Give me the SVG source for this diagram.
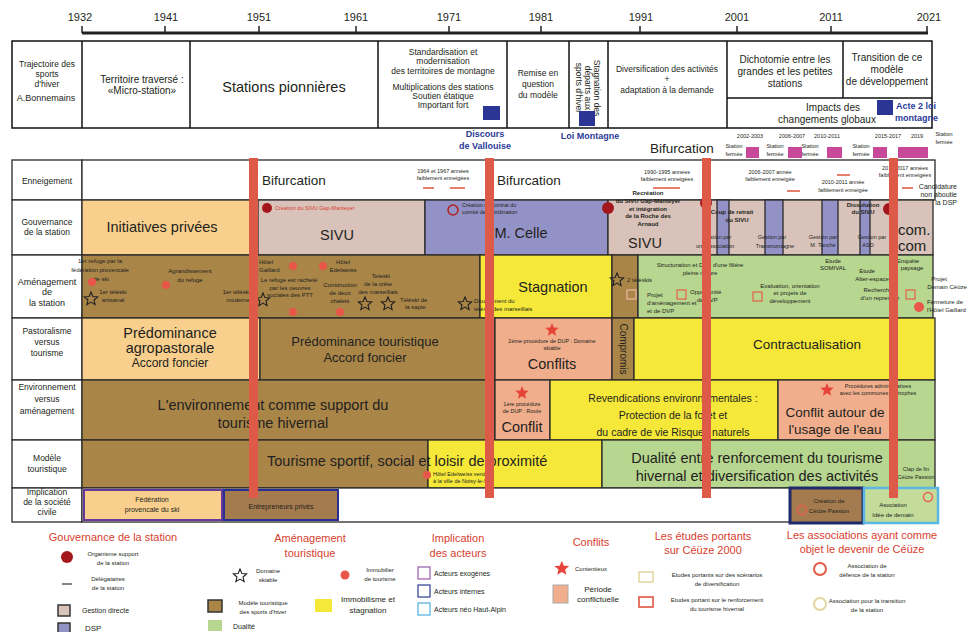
<svg xmlns="http://www.w3.org/2000/svg" width="968" height="632" viewBox="0 0 968 632">
<defs>
<style>
text{font-family:"Liberation Sans",Arial,sans-serif;fill:#231f20}
.c{text-anchor:middle}
.e{text-anchor:end}
.b{font-weight:bold}
.f5{font-size:5.5px}.f6{font-size:6px}.f7{font-size:7px}.f8{font-size:8px}.f85{font-size:8.5px}.f9{font-size:9px}.f10{font-size:10px}.f11{font-size:11px}.f13{font-size:13.5px}.f14{font-size:14.5px}
.red{fill:#d8402e}.blue{fill:#2b3a98}
.cell{stroke:#2a2a2a;stroke-width:1.3}
.peach{fill:#f8cf8d}.brown{fill:#a98548}.pink{fill:#d9c2b9}.purple{fill:#9392c6}.yellow{fill:#f5e838}.green{fill:#b7d68f}.salmon{fill:#f0ae8c}.white{fill:#fff}
.bar{fill:#dd5a48}
.dot{fill:#e8564a}
.org{fill:#a3171c}
.so{fill:none;stroke:#222;stroke-width:1.1}
.sr{fill:#e8453a}
.dash{stroke:#e0604c;stroke-width:1.6}
.box{fill:none;stroke:#111;stroke-width:1.5}
.pinkm{fill:#c8489a}
.bsq{fill:#2b3594}
</style>
<path id="star" d="M0,-7L1.85,-2.55L6.66,-2.16L3,0.97L4.12,5.66L0,3.15L-4.12,5.66L-3,0.97L-6.66,-2.16L-1.85,-2.55Z"/>
</defs>

<g id="timeline">
<line x1="82" y1="33" x2="928" y2="33" stroke="#222" stroke-width="3"/>
<g stroke="#222" stroke-width="1.5">
<line x1="82" y1="26" x2="82" y2="33"/><line x1="165" y1="26" x2="165" y2="33"/><line x1="259" y1="26" x2="259" y2="33"/><line x1="356" y1="26" x2="356" y2="33"/><line x1="449" y1="26" x2="449" y2="33"/><line x1="541" y1="26" x2="541" y2="33"/><line x1="640" y1="26" x2="640" y2="33"/><line x1="737" y1="26" x2="737" y2="33"/><line x1="831" y1="26" x2="831" y2="33"/><line x1="927" y1="26" x2="927" y2="33"/>
</g>
<g class="c f11">
<text x="80" y="21">1932</text><text x="166" y="21">1941</text><text x="259" y="21">1951</text><text x="356" y="21">1961</text><text x="449" y="21">1971</text><text x="541" y="21">1981</text><text x="641" y="21">1991</text><text x="737" y="21">2001</text><text x="831" y="21">2011</text><text x="929" y="21">2021</text>
</g>
</g>

<g id="header">
<rect x="12" y="41" width="920" height="87" class="box"/>
<g stroke="#111" stroke-width="1.5">
<line x1="82" y1="41" x2="82" y2="128"/><line x1="190" y1="41" x2="190" y2="128"/><line x1="378" y1="41" x2="378" y2="128"/><line x1="507" y1="41" x2="507" y2="128"/><line x1="569" y1="41" x2="569" y2="128"/><line x1="608" y1="41" x2="608" y2="128"/><line x1="727" y1="41" x2="727" y2="128"/><line x1="843" y1="41" x2="843" y2="98"/><line x1="727" y1="98" x2="932" y2="98"/>
</g>
<g class="c f85">
<text x="47" y="67">Trajectoire des</text><text x="47" y="77">sports</text><text x="47" y="87">d'hiver</text><text x="46" y="101" class="f9">A.Bonnemains</text>
</g>
<text x="142" y="83" class="c f10">Territoire traversé :</text>
<text x="142" y="94" class="c f10">«Micro-station»</text>
<text x="284" y="92" class="c f14">Stations pionnières</text>
<g class="c f85">
<text x="443" y="55">Standardisation et</text><text x="443" y="64">modernisation</text><text x="443" y="74">des territoires de montagne</text>
<text x="443" y="90">Multiplications des stations</text><text x="443" y="99">Soutien étatique</text><text x="443" y="108">Important fort</text>
<text x="538" y="76">Remise en</text><text x="538" y="87">question</text><text x="538" y="98">du modèle</text>
<text x="667" y="72">Diversification des activités</text><text x="667" y="82">+</text><text x="667" y="93">adaptation à la demande</text>
</g>
<g transform="translate(588,88) rotate(90)" class="c f85">
<text x="0" y="-6">Stagnation des</text><text x="0" y="3">départs aux</text><text x="0" y="12">sports d'hiver</text>
</g>
<g class="c f10">
<text x="785" y="63">Dichotomie entre les</text><text x="785" y="75">grandes et les petites</text><text x="785" y="87">stations</text>
<text x="887" y="61">Transition de ce</text><text x="887" y="73">modèle</text><text x="887" y="85">de développement</text>
<text x="833" y="111">Impacts des</text><text x="827" y="123">changements globaux</text>
</g>
<rect x="877" y="100" width="16" height="15" class="bsq"/>
<text x="896" y="109" class="b blue f9">Acte 2 loi</text>
<text x="895" y="121" class="b blue f9">montagne</text>
<rect x="483" y="106" width="17" height="14" class="bsq"/>
<rect x="579" y="111" width="16" height="15" class="bsq"/>
<text x="485" y="137" class="c b blue f9">Discours</text>
<text x="485" y="149" class="c b blue f9">de Vallouise</text>
<text x="590" y="139" class="c b blue f9">Loi Montagne</text>
</g>

<g id="closures">
<text x="650" y="153" class="f13">Bifurcation</text>
<g class="c f5">
<text x="750" y="138">2002-2003</text><text x="792" y="138">2006-2007</text><text x="827" y="138">2010-2011</text><text x="888" y="138">2015-2017</text><text x="917" y="138">2019</text>
<text x="734" y="148">Station</text><text x="734" y="156">fermée</text>
<text x="775" y="148">Station</text><text x="775" y="156">fermée</text>
<text x="810" y="148">Station</text><text x="810" y="156">fermée</text>
<text x="861" y="148">Station</text><text x="861" y="156">fermée</text>
<text x="944" y="136">Station</text><text x="944" y="144">fermée</text>
</g>
<rect x="746" y="147" width="13" height="11" class="pinkm"/>
<rect x="788" y="147" width="14" height="11" class="pinkm"/>
<rect x="827" y="147" width="15" height="11" class="pinkm"/>
<rect x="873" y="147" width="14" height="11" class="pinkm"/>
<rect x="898" y="147" width="30" height="11" class="pinkm"/>
</g>

<g id="labels">
<rect x="12" y="160" width="70" height="40" class="cell white"/>
<rect x="12" y="200" width="70" height="55" class="cell white"/>
<rect x="12" y="255" width="70" height="63" class="cell white"/>
<rect x="12" y="318" width="70" height="62" class="cell white"/>
<rect x="12" y="380" width="70" height="60" class="cell white"/>
<rect x="12" y="440" width="70" height="48" class="cell white"/>
<rect x="12" y="488" width="70" height="34" class="cell white"/>
<g class="c f85">
<text x="47" y="184">Enneigement</text>
<text x="47" y="225">Gouvernance</text><text x="47" y="235">de la station</text>
<text x="47" y="334">Pastoralisme</text><text x="47" y="345">versus</text><text x="47" y="356">tourisme</text>
<text x="47" y="390">Environnement</text><text x="47" y="402">versus</text><text x="47" y="414">aménagement</text>
<text x="47" y="461">Modèle</text><text x="47" y="472">touristique</text>
<text x="47" y="495">Implication</text><text x="47" y="505">de la société</text><text x="47" y="515">civile</text>
</g>
<g class="c f9"><text x="47" y="285">Aménagement</text><text x="47" y="295">de</text><text x="47" y="306">la station</text></g>
</g>

<g id="row-enneigement">
<rect x="82" y="160" width="853" height="40" class="cell white"/>
<text x="262" y="185" class="f13">Bifurcation</text>
<text x="497" y="185" class="f13">Bifurcation</text>
<g class="c f5">
<text x="443" y="173">1964 et 1967 années</text><text x="443" y="180">faiblement enneigées</text>
<text x="667" y="174">1990-1995 années</text><text x="667" y="181">faiblement enneigées</text>
<text x="770" y="174">2006-2007 année</text><text x="770" y="181">faiblement enneigée</text>
<text x="843" y="184">2010-2011 année</text><text x="843" y="192">faiblement enneigée</text>
<text x="905" y="170">2015-2017 années</text><text x="905" y="177">faiblement enneigées</text>
</g>
<g class="e f7">
<text x="957" y="189">Candidature</text><text x="957" y="197">non aboutie</text><text x="957" y="205">de la DSP</text>
</g>
<g class="dash">
<line x1="423" y1="188" x2="434" y2="188"/><line x1="450" y1="188" x2="465" y2="188"/>
<line x1="653" y1="188" x2="680" y2="188"/>
<line x1="787" y1="191" x2="800" y2="191"/>
<line x1="837" y1="175" x2="850" y2="175"/>
<line x1="902" y1="188" x2="913" y2="188"/>
</g>
</g>

<g id="row-gouvernance">
<rect x="82" y="200" width="176" height="55" class="cell peach"/>
<rect x="258" y="200" width="167" height="55" class="cell pink"/>
<rect x="425" y="200" width="183" height="55" class="cell purple"/>
<rect x="608" y="200" width="325" height="55" class="cell pink"/>
<rect x="717" y="200" width="12" height="55" class="cell purple"/>
<rect x="765" y="200" width="18" height="55" class="cell purple"/>
<rect x="822" y="200" width="16" height="55" class="cell purple"/>
<rect x="860" y="200" width="10" height="55" class="cell purple"/>
<text x="162" y="232" class="c f14">Initiatives privées</text>
<text x="337" y="240" class="c f14">SIVU</text>
<text x="521" y="238" class="c f14">M. Celle</text>
<text x="645" y="248" class="c f14">SIVU</text>
<text x="898" y="235" style="font-size:15px">com.</text>
<text x="898" y="251" style="font-size:15px">com</text>
<circle cx="267" cy="208" r="5" class="org"/>
<text x="275" y="210" class="red f5">Création du SIVU Gap-Manteyer</text>
<circle cx="453" cy="210" r="5" fill="none" stroke="#b0201e" stroke-width="1.5"/>
<text x="462" y="207" class="f5">Création du contrat du</text>
<text x="462" y="214" class="f5">comité de coordination</text>
<circle cx="608" cy="208" r="6" class="org"/>
<circle cx="706" cy="203" r="6" class="org"/>
<circle cx="889" cy="209" r="6" class="org"/>
<g class="c red f6 b">
<text x="648" y="195">Recréation</text><text x="648" y="203">du SIVU Gap-Manteyer</text><text x="648" y="211">et intégration</text><text x="648" y="218">de la Roche des</text><text x="648" y="226">Arnaud</text>
<text x="732" y="214">Coup de retrait</text><text x="737" y="222">du SIVU</text>
<text x="863" y="207">Dissolution</text><text x="863" y="214">du SIVU</text>
</g>
<g class="c f5">
<text x="717" y="239">Gestion par</text><text x="715" y="248">une association</text>
<text x="772" y="239">Gestion par</text><text x="775" y="248">Transmontagne</text>
<text x="823" y="239">Gestion par</text><text x="823" y="247">M. Tanché</text>
<text x="872" y="239">Gestion par</text><text x="868" y="247">ASD</text>
</g>
</g>

<g id="row-amenagement">
<rect x="82" y="255" width="398" height="63" class="cell brown"/>
<rect x="480" y="255" width="132" height="63" class="cell yellow"/>
<rect x="612" y="255" width="26" height="63" class="cell brown"/>
<rect x="638" y="255" width="295" height="63" class="cell green"/>
<text x="553" y="292" class="c f14">Stagnation</text>
<g class="c f6">
<text x="100" y="263">1er refuge par la</text><text x="100" y="272">fédération provencale</text><text x="101" y="281">de ski</text>
<text x="190" y="273">Agrandissement</text><text x="190" y="282">du refuge</text>
<text x="113" y="294">1er téléski</text><text x="113" y="302">artisanal</text>
<text x="343" y="264">Hôtel</text><text x="343" y="272">Edelweiss</text>
<text x="289" y="282">Le refuge est racheté</text><text x="290" y="290">par les oeuvres</text><text x="290" y="297">sociales des PTT</text>
<text x="340" y="287">Construction</text><text x="340" y="295">de deux</text><text x="340" y="303">chalets</text>
<text x="381" y="278">Teleski</text><text x="378" y="286">de la crête</text><text x="378" y="294">des marseillais</text>
<text x="700" y="267">Structuration et DVP d'une filière</text><text x="700" y="275">pleine nature</text>
<text x="790" y="288">Evaluation, orientation</text><text x="790" y="295">et projets de</text><text x="790" y="303">développement</text>
<text x="833" y="263">Etude</text><text x="833" y="270">SOMIVAL</text>
<text x="867" y="273">Etude</text><text x="872" y="281">Alter-espace</text>
<text x="878" y="292">Recherche</text><text x="880" y="300">d'un repreneur</text>
<text x="908" y="263">Enquête</text><text x="912" y="270">paysage</text>
<text x="939" y="281">Projet</text><text x="947" y="289">Demain Céüze</text>
</g>
<g class="f6">
<text x="250" y="294" class="e">1er téléski</text><text x="250" y="302" class="e">moderne</text>
<text x="259" y="264">Hôtel</text><text x="259" y="272">Gaillard</text>
<text x="400" y="302">Téléski de</text><text x="405" y="309">la sapie</text>
<text x="474" y="303">Doublement du</text><text x="474" y="311">téléski des marseillais</text>
<text x="627" y="282">2 téléskis</text>
<text x="647" y="297">Projet</text><text x="647" y="305">d'aménagement et</text><text x="647" y="313">et de DVP</text>
<text x="690" y="294">Opportunité</text><text x="697" y="302">de DVP</text>
<text x="927" y="304">Fermeture de</text><text x="927" y="312">l'Hôtel Gaillard</text>
</g>
<circle cx="92" cy="282" r="4" class="dot"/>
<circle cx="166" cy="285" r="4" class="dot"/>
<circle cx="293" cy="266" r="4" class="dot"/>
<circle cx="323" cy="266" r="4" class="dot"/>
<circle cx="293" cy="312" r="4" class="dot"/>
<circle cx="340" cy="312" r="4" class="dot"/>
<circle cx="919" cy="307" r="5" class="dot"/>
<use href="#star" x="91" y="299" class="so"/>
<use href="#star" x="263" y="300" class="so"/>
<use href="#star" x="365" y="304" class="so"/>
<use href="#star" x="388" y="304" class="so"/>
<use href="#star" x="465" y="304" class="so"/>
<use href="#star" x="617" y="280" class="so"/>
<rect x="627" y="290" width="9" height="9" fill="none" stroke="#f2b5a5" stroke-width="1.2"/>
<rect x="677" y="290" width="9" height="9" fill="none" stroke="#e8604c" stroke-width="1.2"/>
<rect x="753" y="292" width="9" height="9" fill="none" stroke="#e8604c" stroke-width="1.2"/>
<rect x="906" y="290" width="9" height="9" fill="none" stroke="#e8604c" stroke-width="1.2"/>
</g>

<g id="row-pastoralisme">
<rect x="82" y="318" width="178" height="62" class="cell peach"/>
<rect x="260" y="318" width="235" height="62" class="cell brown"/>
<rect x="495" y="318" width="117" height="62" class="cell salmon"/>
<rect x="612" y="318" width="22" height="62" class="cell brown"/>
<rect x="634" y="318" width="301" height="62" class="cell yellow"/>
<text x="170" y="338" class="c f14">Prédominance</text>
<text x="170" y="353" class="c f14">agropastorale</text>
<text x="170" y="367" class="c" style="font-size:12px">Accord foncier</text>
<text x="365" y="346" class="c" style="font-size:13px">Prédominance touristique</text>
<text x="365" y="362" class="c" style="font-size:13px">Accord foncier</text>
<use href="#star" x="552" y="330" class="sr"/>
<text x="552" y="343" class="c f5">2ème procédure de DUP : Domaine</text>
<text x="552" y="350" class="c f5">skiable</text>
<text x="552" y="369" class="c f14">Conflits</text>
<text transform="translate(620,349) rotate(90)" class="c f10">Compromis</text>
<text x="807" y="349" class="c f13">Contractualisation</text>
</g>

<g id="row-environnement">
<rect x="82" y="380" width="413" height="60" class="cell brown"/>
<rect x="495" y="380" width="55" height="60" class="cell salmon"/>
<rect x="550" y="380" width="228" height="60" class="cell yellow"/>
<rect x="778" y="380" width="115" height="60" class="cell salmon"/>
<rect x="893" y="380" width="42" height="60" class="cell green"/>
<text x="273" y="410" class="c f14">L'environnement comme support du</text>
<text x="273" y="428" class="c f14">tourisme hivernal</text>
<use href="#star" x="522" y="393" class="sr"/>
<text x="522" y="406" class="c f5">1ère procédure</text>
<text x="522" y="413" class="c f5">de DUP : Route</text>
<text x="522" y="432" class="c f14">Conflit</text>
<g class="c" style="font-size:10.5px">
<text x="673" y="402">Revendications environnementales :</text>
<text x="673" y="419">Protection de la forêt et</text>
<text x="673" y="436">du cadre de vie Risques naturels</text>
</g>
<use href="#star" x="827" y="390" class="sr"/>
<text x="878" y="388" class="c f5">Procédures administratives</text>
<text x="878" y="395" class="c f5">avec les communes limitrophes</text>
<text x="835" y="417" class="c f13">Conflit autour de</text>
<text x="835" y="434" class="c f13">l'usage de l'eau</text>
</g>

<g id="row-modele">
<rect x="82" y="440" width="346" height="48" class="cell brown"/>
<rect x="428" y="440" width="174" height="48" class="cell yellow"/>
<rect x="602" y="440" width="333" height="48" class="cell green"/>
<text x="267" y="466" class="f14">Tourisme sportif, social et loisir de proximité</text>
<circle cx="427" cy="475" r="4" class="dot"/>
<text x="433" y="476" class="f5">Hôtel Edelweiss vendu</text>
<text x="433" y="483" class="f5">à la ville de Noisy-le-Sec</text>
<text x="757" y="463" class="c f14">Dualité entre renforcement du tourisme</text>
<text x="757" y="481" class="c f14">hivernal et diversification des activités</text>
<text x="916" y="471" class="c f5">Clap de fin</text>
<text x="916" y="479" class="c f5">Céüze Passion</text>
</g>

<g id="row-implication">
<rect x="82" y="488" width="708" height="34" class="cell white"/>
<rect x="84" y="490" width="138" height="30" fill="#f8cf8d" stroke="#6a3a9a" stroke-width="2"/>
<text x="152" y="502" class="c f7">Fédération</text>
<text x="152" y="512" class="c f7">provencale du ski</text>
<rect x="224" y="490" width="114" height="30" fill="#a47b4e" stroke="#2b2f8f" stroke-width="2"/>
<text x="281" y="509" class="c f7">Entrepreneurs privés</text>
<rect x="790" y="488" width="73" height="35" fill="#a47b4e" stroke="#1f2a6a" stroke-width="3"/>
<circle cx="802" cy="510" r="4.5" fill="none" stroke="#e8604c" stroke-width="1.5"/>
<text x="829" y="503" class="c f6">Création de</text>
<text x="829" y="513" class="c f6">Céüze Passion</text>
<rect x="864" y="488" width="74" height="35" fill="#c4dc9a" stroke="#5ab6e2" stroke-width="2.5"/>
<circle cx="928" cy="497" r="4.5" fill="none" stroke="#e8604c" stroke-width="1.5"/>
<text x="893" y="507" class="c f6">Asociation</text>
<text x="893" y="517" class="c f6">Idée de demain</text>
</g>

<g id="bifurcation-bars">
<rect x="249" y="158" width="9" height="340" class="bar"/>
<rect x="485" y="158" width="9" height="340" class="bar"/>
<rect x="702" y="158" width="9" height="340" class="bar"/>
<rect x="889" y="158" width="9" height="340" class="bar"/>
</g>

<g id="legend">
<g id="legend-gouvernance">
<text x="113" y="541" class="c red f11">Gouvernance de la station</text>
<circle cx="67" cy="557" r="6" class="org"/>
<text x="113" y="556" class="c f6">Organisme support</text><text x="113" y="565" class="c f6">de la station</text>
<line x1="62" y1="584" x2="72" y2="584" stroke="#333" stroke-width="1.2"/>
<text x="108" y="581" class="c f6">Délégataires</text><text x="108" y="590" class="c f6">de la station</text>
<rect x="58" y="605" width="12" height="11" class="pink" stroke="#333" stroke-width="1.5"/>
<text x="82" y="613" class="f7">Gestion directe</text>
<rect x="58" y="623" width="12" height="11" class="purple" stroke="#333" stroke-width="1.5"/>
<text x="85" y="631" class="f8">DSP</text>
</g>
<g id="legend-amenagement">
<text x="310" y="542" class="c red f11">Aménagement</text>
<text x="310" y="557" class="c red f11">touristique</text>
<use href="#star" x="240" y="576" class="so"/>
<text x="268" y="573" class="c f6">Domaine</text><text x="268" y="582" class="c f6">skiable</text>
<circle cx="345" cy="575" r="4.5" class="dot"/>
<text x="380" y="572" class="c f6">Immobilier</text><text x="380" y="581" class="c f6">de tourisme</text>
<rect x="208" y="600" width="14" height="12" class="brown" stroke="#333" stroke-width="1.5"/>
<text x="263" y="605" class="c f6">Modèle touristique</text><text x="263" y="614" class="c f6">des sports d'hiver</text>
<rect x="315" y="599" width="17" height="13" class="yellow"/>
<text x="368" y="602" class="c f8">Immobilisme et</text><text x="368" y="613" class="c f8">stagnation</text>
<rect x="208" y="620" width="14" height="11" class="green"/>
<text x="233" y="629" class="f7">Dualité</text>
</g>
<g id="legend-implication">
<text x="458" y="542" class="c red f11">Implication</text>
<text x="458" y="557" class="c red f11">des acteurs</text>
<rect x="418" y="567" width="12" height="12" fill="none" stroke="#a066b0" stroke-width="1.3"/>
<text x="434" y="576" class="f7">Acteurs exogènes</text>
<rect x="418" y="585" width="12" height="12" fill="none" stroke="#3b4a9a" stroke-width="1.3"/>
<text x="434" y="594" class="f7">Acteurs internes</text>
<rect x="418" y="603" width="12" height="12" fill="none" stroke="#56b6e0" stroke-width="1.3"/>
<text x="434" y="612" class="f7">Acteurs néo Haut-Alpin</text>
</g>
<g id="legend-conflits">
<text x="591" y="546" class="c red f11">Conflits</text>
<use href="#star" x="562" y="568" class="sr" transform="translate(-62,-62) scale(1.11)"/>
<text x="575" y="571" class="f6">Contentieux</text>
<rect x="553" y="585" width="15" height="18" class="salmon" stroke="#aaa" stroke-width="1"/>
<text x="598" y="592" class="c f8">Période</text><text x="598" y="602" class="c f8">conflictuelle</text>
</g>
<g id="legend-etudes">
<text x="703" y="540" class="c red f11">Les études portants</text>
<text x="703" y="554" class="c red f11">sur Céüze 2000</text>
<rect x="639" y="572" width="14" height="10" fill="none" stroke="#e2d6a0" stroke-width="1.5"/>
<text x="717" y="577" class="c f6">Etudes portants sur des scénarios</text><text x="717" y="586" class="c f6">de diversification</text>
<rect x="639" y="597" width="14" height="10" fill="none" stroke="#e04a3a" stroke-width="1.5"/>
<text x="717" y="602" class="c f6">Etudes portant sur le renforcement</text><text x="717" y="611" class="c f6">du tourisme hivernal</text>
</g>
<g id="legend-associations">
<text x="862" y="539" class="c red f11">Les associations ayant comme</text>
<text x="862" y="553" class="c red f11">objet le devenir de Céüze</text>
<circle cx="820" cy="569" r="6" fill="none" stroke="#e35a45" stroke-width="2"/>
<text x="867" y="568" class="c f6">Association de</text><text x="867" y="577" class="c f6">défence de la station</text>
<circle cx="820" cy="604" r="6" fill="none" stroke="#e2d6a0" stroke-width="2"/>
<text x="867" y="603" class="c f6">Association pour la transition</text><text x="867" y="612" class="c f6">de la station</text>
</g>
</g>
</svg>
